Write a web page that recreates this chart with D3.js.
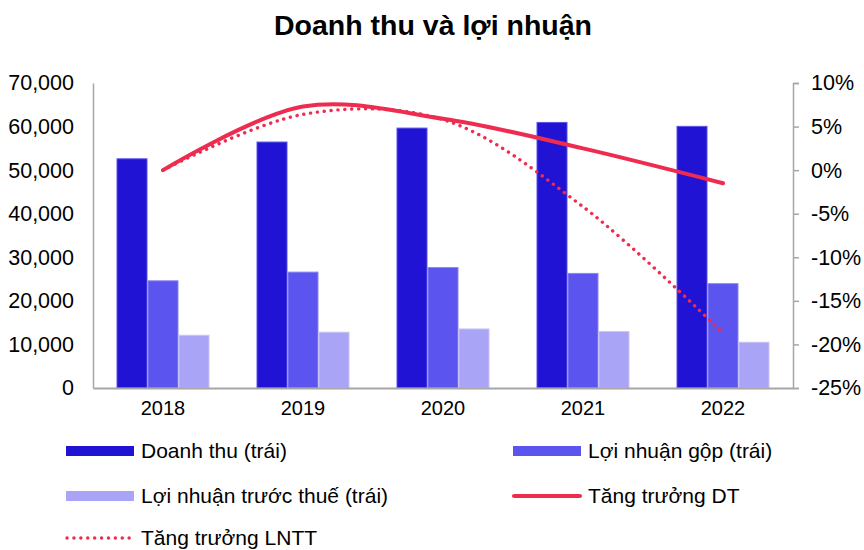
<!DOCTYPE html>
<html lang="vi">
<head>
<meta charset="UTF-8">
<title>Doanh thu và lợi nhuận</title>
<script src="https://cdn.jsdelivr.net/npm/d3@7"></script>
<style>
    body { margin: 0; background: #fff; }
    svg text { font-family: "Liberation Sans", Arial, sans-serif; fill: #000; }
</style>
</head>
<body>
<div id="chart"></div>
<script>
    // data
    var years = ["2018", "2019", "2020", "2021", "2022"];
    var doanhThu = [52600, 56450, 59650, 60950, 60050];
    var loiNhuanGop = [24600, 26600, 27650, 26300, 23950];
    var loiNhuanTruocThue = [12100, 12800, 13550, 12950, 10500];
    var tangTruongDT = [0.0, 7.3, 5.9, 2.5, -1.5];
    var tangTruongLNTT = [0.0, 6.4, 5.8, -4.2, -18.7];
    var leftTicks = [0, 10000, 20000, 30000, 40000, 50000, 60000, 70000];
    var rightTicks = [-25, -20, -15, -10, -5, 0, 5, 10];

    var barSeries = [
        {name: "Doanh thu (trái)", values: doanhThu, fill: "#2013d3", stroke: "#5a55e6"},
        {name: "Lợi nhuận gộp (trái)", values: loiNhuanGop, fill: "#5b54ee", stroke: "#8b86f3"},
        {name: "Lợi nhuận trước thuế (trái)", values: loiNhuanTruocThue, fill: "#a9a4f5", stroke: "#c6c3f8"}
    ];
    var lineSeries = [
        {name: "Tăng trưởng DT", values: tangTruongDT, dash: null, width: 4},
        {name: "Tăng trưởng LNTT", values: tangTruongLNTT, dash: "0.1 6.8", width: 3.4}
    ];
    var red = "#ee2c4f";

    var width = 864, height = 550;
    var plot = {left: 93, right: 793, top: 83, bottom: 388};

    var svg = d3.select("#chart").append("svg")
        .attr("width", width)
        .attr("height", height);

    svg.append("text")
        .attr("x", 433)
        .attr("y", 35)
        .attr("text-anchor", "middle")
        .style("font-size", "28.5px")
        .style("font-weight", "bold")
        .text("Doanh thu và lợi nhuận");

    var x = d3.scaleBand().domain(years).range([plot.left, plot.right]);
    var xInner = d3.scaleBand().domain(d3.range(barSeries.length))
        .range([0, 93]);
    var yLeft = d3.scaleLinear().domain([0, 70000]).range([plot.bottom, plot.top]);
    var yRight = d3.scaleLinear().domain([-25, 10]).range([plot.bottom, plot.top]);
    var innerOffset = (x.bandwidth() - 93) / 2;

    // bars
    barSeries.forEach(function(s, si){
        svg.append("g").selectAll("rect")
            .data(s.values)
            .enter().append("rect")
            .attr("x", function(d, i){ return x(years[i]) + innerOffset + xInner(si) + 0.5; })
            .attr("y", function(d){ return yLeft(d); })
            .attr("width", xInner.bandwidth() - 1)
            .attr("height", function(d){ return plot.bottom - yLeft(d); })
            .attr("fill", s.fill)
            .attr("stroke", s.stroke)
            .attr("stroke-width", 1);
    });

    // left axis
    var gl = svg.append("g").attr("transform", "translate(" + plot.left + ",0)")
        .call(d3.axisLeft(yLeft).tickValues(leftTicks).tickSize(0).tickPadding(19)
            .tickFormat(d3.format(",")));
    gl.select(".domain").attr("stroke", "#a6a6a6").attr("stroke-width", 1.5);
    gl.selectAll("text").style("font-size", "21.5px");

    // right axis
    var gr = svg.append("g").attr("transform", "translate(" + plot.right + ",0)")
        .call(d3.axisRight(yRight).tickValues(rightTicks).tickSizeInner(6).tickSizeOuter(6).tickPadding(12)
            .tickFormat(function(d){ return d + "%"; }));
    gr.select(".domain").attr("stroke", "#a6a6a6").attr("stroke-width", 1.5);
    gr.selectAll("line").attr("stroke", "#a6a6a6").attr("stroke-width", 1.5);
    gr.selectAll("text").style("font-size", "21.5px");

    // bottom axis
    var gb = svg.append("g").attr("transform", "translate(0," + plot.bottom + ")")
        .call(d3.axisBottom(x).tickSize(0).tickPadding(13));
    gb.select(".domain").attr("stroke", "#a6a6a6").attr("stroke-width", 2);
    gb.selectAll("text").style("font-size", "20px");

    // lines
    var line = d3.line()
        .x(function(d, i){ return x(years[i]) + x.bandwidth() / 2; })
        .y(function(d){ return yRight(d); })
        .curve(d3.curveCatmullRom.alpha(0.5));

    lineSeries.slice().reverse().forEach(function(s){
        svg.append("path")
            .datum(s.values)
            .attr("d", line)
            .attr("fill", "none")
            .attr("stroke", red)
            .attr("stroke-width", s.width)
            .attr("stroke-linecap", "round")
            .attr("stroke-dasharray", s.dash);
    });

    // legend
    var legendItems = [
        {s: barSeries[0], type: "bar", x: 66, y: 451},
        {s: barSeries[1], type: "bar", x: 513, y: 451},
        {s: barSeries[2], type: "bar", x: 66, y: 496},
        {s: lineSeries[0], type: "line", x: 513, y: 496},
        {s: lineSeries[1], type: "line", x: 66, y: 538}
    ];
    var lg = svg.append("g").selectAll("g")
        .data(legendItems)
        .enter().append("g")
        .attr("transform", function(d){ return "translate(" + d.x + "," + d.y + ")"; });

    lg.filter(function(d){ return d.type === "bar"; })
        .append("rect")
        .attr("x", 0).attr("y", -5)
        .attr("width", 68).attr("height", 10)
        .attr("fill", function(d){ return d.s.fill; });

    lg.filter(function(d){ return d.type === "line"; })
        .append("line")
        .attr("x1", 1).attr("x2", 67)
        .attr("y1", 0).attr("y2", 0)
        .attr("stroke", red)
        .attr("stroke-width", function(d){ return d.s.width; })
        .attr("stroke-linecap", "round")
        .attr("stroke-dasharray", function(d){ return d.s.dash; });

    lg.append("text")
        .attr("x", 75)
        .attr("y", 7)
        .style("font-size", "21px")
        .text(function(d){ return d.s.name; });
</script>
</body>
</html>
